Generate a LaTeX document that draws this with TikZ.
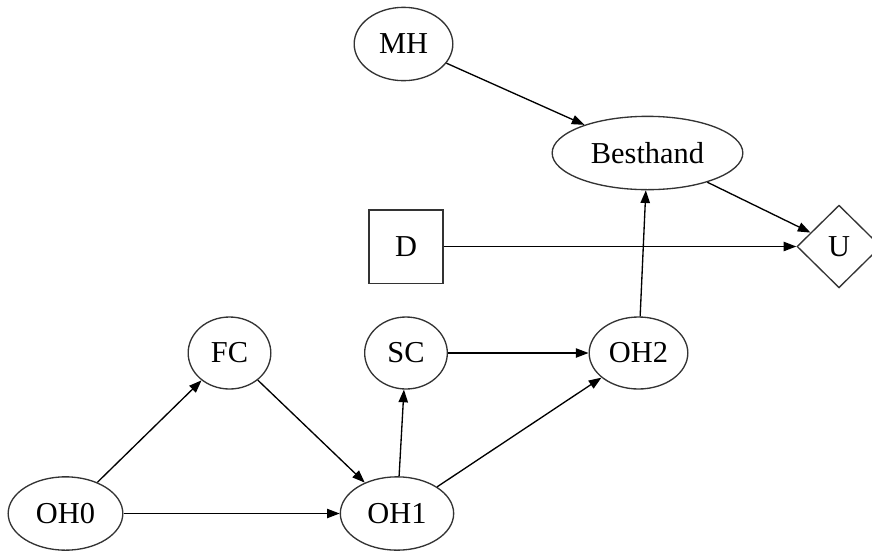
\documentclass[tikz,border=0pt]{standalone}
\usepackage{fontspec}
\setmainfont{Liberation Serif}
\usetikzlibrary{arrows.meta,shapes.geometric}

\tikzset{
  chance/.style={ellipse, draw=black!80, line width=1pt, inner sep=0pt},
  decision/.style={rectangle, draw=black!80, line width=1pt, inner sep=0pt,
    minimum width=55.5pt, minimum height=55pt},
  utility/.style={diamond, draw=black!80, line width=1pt, inner sep=0pt,
    minimum width=63pt, minimum height=62pt},
  link/.style={-{Triangle[length=9.5pt,width=7pt]}, line width=1pt},
}

\begin{document}
\begin{tikzpicture}[x=0.75pt, y=-0.75pt, font=\fontsize{22.8}{27}\selectfont]
	\useasboundingbox (0,0) rectangle (872,551);
	% top row
	\node[chance, minimum width=74pt, minimum height=55pt] (mh) at (403.5,44) {MH};
	\node[chance, minimum width=143pt, minimum height=55pt] (best) at (647.5,153) {Besthand};
	\node[decision] (d) at (406,246.5) {D};
	\node[utility] (u) at (839,246.5) {U};
	% middle row
	\node[chance, minimum width=62pt, minimum height=54pt] (fc) at (229.5,353) {FC};
	\node[chance, minimum width=62pt, minimum height=54pt] (sc) at (406,353) {SC};
	\node[chance, minimum width=74pt, minimum height=54pt] (oh2) at (638.5,353) {OH2};
	% bottom row
	\node[chance, minimum width=86pt, minimum height=55pt] (oh0) at (65.5,513.5) {OH0};
	\node[chance, minimum width=85pt, minimum height=55pt] (oh1) at (397,513.5) {OH1};

	\draw[link] (mh) -- (best);
	\draw[link] (best) -- (u);
	\draw[link] (d) -- (u);
	\draw[link] (oh2) -- (best);
	\draw[link] (sc) -- (oh2);
	\draw[link] (oh0) -- (fc);
	\draw[link] (fc) -- (oh1);
	\draw[link] (oh0) -- (oh1);
	\draw[link] (oh1) -- (sc);
	\draw[link] (oh1) -- (oh2);
\end{tikzpicture}
\end{document}
